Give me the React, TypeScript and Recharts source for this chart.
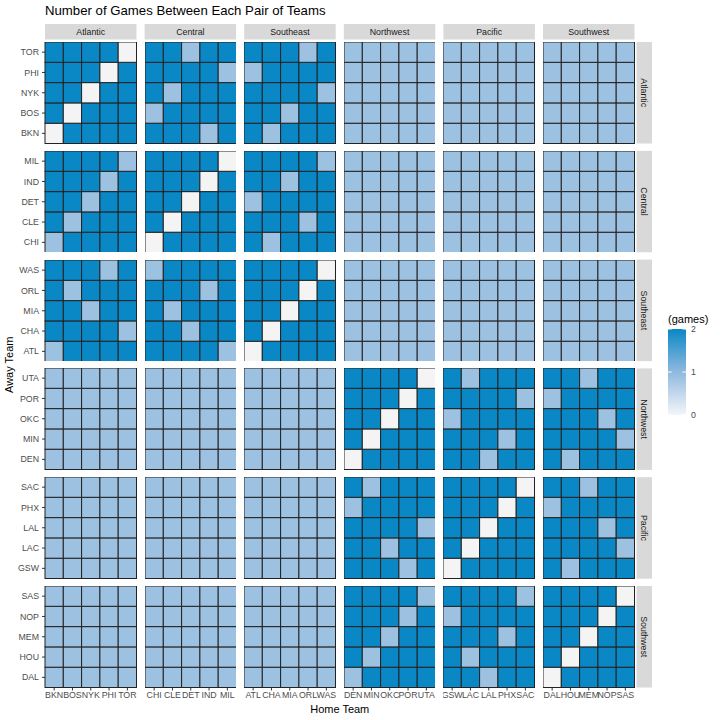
import { ScatterChart, Scatter, XAxis, YAxis } from 'recharts'

const divisions = ['Atlantic', 'Central', 'Southeast', 'Northwest', 'Pacific', 'Southwest']

const teams = [
  ['BKN', 'BOS', 'NYK', 'PHI', 'TOR'],
  ['CHI', 'CLE', 'DET', 'IND', 'MIL'],
  ['ATL', 'CHA', 'MIA', 'ORL', 'WAS'],
  ['DEN', 'MIN', 'OKC', 'POR', 'UTA'],
  ['GSW', 'LAC', 'LAL', 'PHX', 'SAC'],
  ['DAL', 'HOU', 'MEM', 'NOP', 'SAS'],
]

// games played by the away team at each home team, one block of 5 per division (same order as teams)
const games: Record<string, string> = {
  BKN: '02222 22212 21222 11111 11111 11111',
  BOS: '20222 12222 22122 11111 11111 11111',
  NYK: '22022 21222 22221 11111 11111 11111',
  PHI: '22202 22221 12222 11111 11111 11111',
  TOR: '22220 22122 22212 11111 11111 11111',
  CHI: '12222 02222 21222 11111 11111 11111',
  CLE: '21222 20222 22212 11111 11111 11111',
  DET: '22122 22022 12222 11111 11111 11111',
  IND: '22212 22202 22122 11111 11111 11111',
  MIL: '22221 22220 22221 11111 11111 11111',
  ATL: '12222 22221 02222 11111 11111 11111',
  CHA: '22221 22122 20222 11111 11111 11111',
  MIA: '22122 21222 22022 11111 11111 11111',
  ORL: '21222 22212 22202 11111 11111 11111',
  WAS: '22212 12222 22220 11111 11111 11111',
  DEN: '11111 11111 11111 02222 22122 21222',
  MIN: '11111 11111 11111 20222 22212 22221',
  OKC: '11111 11111 11111 22022 12222 22212',
  POR: '11111 11111 11111 22202 22221 12222',
  UTA: '11111 11111 11111 22220 21222 22122',
  GSW: '11111 11111 11111 22212 02222 21222',
  LAC: '11111 11111 11111 22122 20222 22221',
  LAL: '11111 11111 11111 22221 22022 22212',
  PHX: '11111 11111 11111 12222 22202 12222',
  SAC: '11111 11111 11111 21222 22220 22122',
  DAL: '11111 11111 11111 12222 22122 02222',
  HOU: '11111 11111 11111 21222 21222 20222',
  MEM: '11111 11111 11111 22122 22212 22022',
  NOP: '11111 11111 11111 22212 12222 22202',
  SAS: '11111 11111 11111 22221 22221 22220',
}

const legendBreaks = [0, 1, 2]

const fills = ['#f4f4f4', '#9dc1e1', '#0a88c6']
const font = '"Liberation Sans", Arial, sans-serif'

// layout (px)
const PL = 45
const PT = 42
const PW = 91.5
const PH = 101.5
const SX = 99.6
const SY = 108.8
const YW = 45
const XH = 22
const CW = PW / 5
const CH = PH / 5

function facetData(r: number, c: number) {
  const out: { x: number; y: number; games: number }[] = []
  teams[r].forEach((away, j) => {
    const block = games[away].split(' ')[c]
    teams[c].forEach((home, i) => {
      out.push({ x: i, y: j, games: Number(block[i]) })
    })
  })
  return out
}

const tile = (p: any) => (
  <rect
    x={p.cx - CW / 2}
    y={p.cy - CH / 2}
    width={CW}
    height={CH}
    fill={fills[p.payload.games]}
    stroke="#222"
    strokeWidth={1}
  />
)

function Panel({ r, c }: { r: number; c: number }) {
  const showY = c === 0
  const showX = r === 5
  const w = PW + (showY ? YW : 0)
  const h = PH + (showX ? XH : 0)
  const left = PL + c * SX - (showY ? YW : 0)
  const top = PT + r * SY
  return (
    <div style={{ position: 'absolute', left, top, fontFamily: font }}>
      <ScatterChart width={w} height={h} margin={{ top: 0, right: 0, bottom: 0, left: 0 }}>
        <XAxis
          type="number"
          dataKey="x"
          domain={[-0.5, 4.5]}
          ticks={[0, 1, 2, 3, 4]}
          interval={0}
          tickFormatter={(v) => teams[c][v]}
          hide={!showX}
          height={XH}
          axisLine={false}
          tickSize={3}
          tickMargin={1}
          tickLine={{ stroke: '#333' }}
          tick={{ fontSize: 8.8, fill: '#4d4d4d' }}
        />
        <YAxis
          type="number"
          dataKey="y"
          domain={[-0.5, 4.5]}
          ticks={[0, 1, 2, 3, 4]}
          interval={0}
          tickFormatter={(v) => teams[r][v]}
          hide={!showY}
          width={YW}
          axisLine={false}
          tickSize={3}
          tickMargin={3}
          tickLine={{ stroke: '#333' }}
          tick={{ fontSize: 8.8, fill: '#4d4d4d' }}
        />
        <Scatter data={facetData(r, c)} shape={tile} isAnimationActive={false} />
      </ScatterChart>
    </div>
  )
}

export default function App() {
  const stripX = PL + 5 * SX + PW + 2
  return (
    <div style={{ position: 'absolute', left: 0, top: 0, width: 720, height: 720, background: '#fff' }}>
      <svg width={720} height={720} style={{ position: 'absolute', left: 0, top: 0, fontFamily: font }}>
        <defs>
          <linearGradient id="bar" x1="0" y1="1" x2="0" y2="0">
            <stop offset="0%" stopColor="#f4f6fa" />
            <stop offset="50%" stopColor="#8fb9df" />
            <stop offset="100%" stopColor={fills[2]} />
          </linearGradient>
        </defs>
        <text x={45} y={15} fontSize={13.2} fill="#000">
          Number of Games Between Each Pair of Teams
        </text>
        {divisions.map((d, c) => (
          <g key={'t' + d}>
            <rect x={PL + c * SX} y={24} width={PW} height={15.5} fill="#d9d9d9" />
            <text x={PL + c * SX + PW / 2} y={32} fontSize={8.8} fill="#1a1a1a" textAnchor="middle" dominantBaseline="central">
              {d}
            </text>
          </g>
        ))}
        {divisions.map((d, r) => (
          <g key={'r' + d}>
            <rect x={stripX} y={PT + r * SY} width={15.5} height={PH} fill="#d9d9d9" />
            <text
              x={stripX + 7.75}
              y={PT + r * SY + PH / 2}
              fontSize={8.8}
              fill="#1a1a1a"
              textAnchor="middle"
              dominantBaseline="central"
              transform={`rotate(90 ${stripX + 7.75} ${PT + r * SY + PH / 2})`}
            >
              {d}
            </text>
          </g>
        ))}
        <text x={PL + (5 * SX + PW) / 2} y={713} fontSize={11} textAnchor="middle" fill="#000">
          Home Team
        </text>
        <text x={13} y={PT + (5 * SY + PH) / 2} fontSize={11} textAnchor="middle" fill="#000" transform={`rotate(-90 13 ${PT + (5 * SY + PH) / 2})`}>
          Away Team
        </text>
        <text x={668} y={323} fontSize={11} fill="#000">
          (games)
        </text>
        <rect x={668} y={329} width={18} height={86} fill="url(#bar)" />
        {legendBreaks.map((b) => {
          const y = 415 - (b / 2) * 86
          return (
            <g key={b}>
              <line x1={668} x2={671.6} y1={y} y2={y} stroke="#fff" />
              <line x1={682.4} x2={686} y1={y} y2={y} stroke="#fff" />
              <text x={691} y={y} fontSize={8.8} fill="#4d4d4d" dominantBaseline="central">
                {b}
              </text>
            </g>
          )
        })}
      </svg>
      {divisions.map((_, r) => divisions.map((__, c) => <Panel key={r + '-' + c} r={r} c={c} />))}
    </div>
  )
}
